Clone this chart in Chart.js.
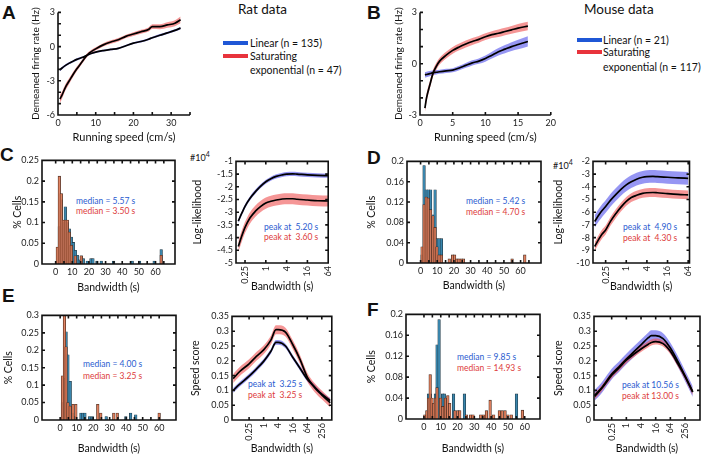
<!DOCTYPE html>
<html>
<head>
<meta charset="utf-8">
<title>Speed tuning – rat and mouse</title>
<script src="https://cdn.jsdelivr.net/npm/chart.js@4.4.1/dist/chart.umd.min.js"></script>
<style>
  html, body { margin: 0; padding: 0; background: #fff; }
  body { position: relative; width: 702px; height: 455px; overflow: hidden; font-family: Lato, "Open Sans", sans-serif; color: #111; }
  canvas { position: absolute; }
  .txt { position: absolute; white-space: pre; line-height: 1; transform: translateY(-50%); }
  .panel { position: absolute; font: bold 19px "Liberation Sans", Arial, sans-serif; line-height: 1; }
  .key { position: absolute; height: 4px; width: 25px; }
  .note { font-size: 8.5px; }
  .blue { color: #2a5bd0; }
  .red { color: #dd3b3b; }
</style>
</head>
<body>
<!-- panel letters -->
<div class="panel" style="left:2px;top:3px">A</div>
<div class="panel" style="left:367px;top:3px">B</div>
<div class="panel" style="left:0px;top:145px">C</div>
<div class="panel" style="left:367px;top:148px">D</div>
<div class="panel" style="left:2px;top:286px">E</div>
<div class="panel" style="left:367px;top:300px">F</div>

<!-- legends A / B -->
<div class="txt" style="left:238px;top:10px;font-size:13.5px">Rat data</div>
<div class="key" style="left:223px;top:41px;background:#1f57d6"></div>
<div class="key" style="left:223px;top:54px;background:#e8333c"></div>
<div class="txt" style="left:250px;top:43px;font-size:10.5px">Linear (n = 135)</div>
<div class="txt" style="left:250px;top:56px;font-size:10.5px">Saturating</div>
<div class="txt" style="left:250px;top:70px;font-size:10.5px">exponential (n = 47)</div>

<div class="txt" style="left:584px;top:10px;font-size:13.5px">Mouse data</div>
<div class="key" style="left:577px;top:38px;background:#1f57d6"></div>
<div class="key" style="left:577px;top:50px;background:#e8333c"></div>
<div class="txt" style="left:603px;top:40px;font-size:10.5px">Linear (n = 21)</div>
<div class="txt" style="left:603px;top:52px;font-size:10.5px">Saturating</div>
<div class="txt" style="left:603px;top:67px;font-size:10.5px">exponential (n = 117)</div>

<!-- annotations -->
<div class="txt note blue" style="left:76px;top:201px">median = 5.57 s</div>
<div class="txt note red" style="left:76px;top:211px">median = 3.50 s</div>
<div class="txt note blue" style="left:264px;top:227px">peak at  5.20 s</div>
<div class="txt note red" style="left:264px;top:237px">peak at  3.60 s</div>
<div class="txt" style="left:190px;top:156px;font-size:9px">#10<sup style="font-size:7px">4</sup></div>

<div class="txt note blue" style="left:466px;top:201px">median = 5.42 s</div>
<div class="txt note red" style="left:466px;top:212px">median = 4.70 s</div>
<div class="txt note blue" style="left:623px;top:227px">peak at  4.90 s</div>
<div class="txt note red" style="left:623px;top:238px">peak at  4.30 s</div>
<div class="txt" style="left:553px;top:164px;font-size:9px">#10<sup style="font-size:7px">4</sup></div>

<div class="txt note blue" style="left:83px;top:364px">median = 4.00 s</div>
<div class="txt note red" style="left:83px;top:376px">median = 3.25 s</div>
<div class="txt note blue" style="left:248px;top:384px">peak at  3.25 s</div>
<div class="txt note red" style="left:248px;top:395px">peak at  3.25 s</div>

<div class="txt note blue" style="left:457px;top:357px">median = 9.85 s</div>
<div class="txt note red" style="left:457px;top:368px">median = 14.93 s</div>
<div class="txt note blue" style="left:622px;top:385px">peak at 10.56 s</div>
<div class="txt note red" style="left:622px;top:396px">peak at 13.00 s</div>

<script>
// ---------- data ----------
// A: rat, demeaned firing rate (Hz) vs running speed (cm/s)
const ratSpeed       = [0.5, 1, 2, 3, 4, 5, 6, 7, 8, 9, 10, 12, 14, 16, 18, 20, 22, 24, 25, 27, 29, 31, 32.5];
const ratLinear      = [-2.05, -1.9, -1.65, -1.45, -1.28, -1.12, -1.0, -0.88, -0.72, -0.58, -0.48, -0.35, -0.25, -0.15, 0.08, 0.3, 0.45, 0.65, 0.78, 1.0, 1.2, 1.42, 1.62];
const ratLinearSem   = [0.12, 0.11, 0.1, 0.1, 0.09, 0.09, 0.08, 0.08, 0.08, 0.08, 0.08, 0.08, 0.08, 0.08, 0.08, 0.08, 0.08, 0.09, 0.09, 0.1, 0.1, 0.1, 0.11];
const ratSat         = [-4.6, -4.3, -3.55, -3.0, -2.45, -1.95, -1.5, -1.05, -0.65, -0.4, -0.2, 0.15, 0.4, 0.6, 0.9, 1.1, 1.3, 1.5, 1.75, 1.75, 1.9, 2.05, 2.35];
const ratSatSem      = [0.35, 0.32, 0.28, 0.25, 0.22, 0.2, 0.18, 0.16, 0.15, 0.15, 0.15, 0.15, 0.15, 0.15, 0.15, 0.16, 0.17, 0.18, 0.2, 0.22, 0.24, 0.26, 0.3];

// B: mouse
const mouseSpeed     = [0.75, 1, 1.5, 2, 2.5, 3, 4, 5, 6, 7, 8, 9, 10, 11, 12, 13, 14, 15, 16.5];
const mouseLinear    = [-0.65, -0.63, -0.58, -0.52, -0.5, -0.47, -0.42, -0.38, -0.25, -0.1, 0.05, 0.15, 0.3, 0.5, 0.7, 0.85, 1.0, 1.12, 1.3];
const mouseLinearSem = [0.16, 0.16, 0.15, 0.14, 0.13, 0.12, 0.12, 0.12, 0.13, 0.14, 0.15, 0.16, 0.18, 0.2, 0.22, 0.24, 0.26, 0.28, 0.3];
const mouseSat       = [-2.6, -2.0, -1.25, -0.55, -0.15, 0.15, 0.5, 0.78, 0.98, 1.15, 1.3, 1.42, 1.58, 1.7, 1.78, 1.88, 1.98, 2.08, 2.2];
const mouseSatSem    = [0.25, 0.25, 0.22, 0.2, 0.2, 0.2, 0.2, 0.2, 0.2, 0.2, 0.2, 0.2, 0.2, 0.2, 0.22, 0.22, 0.23, 0.24, 0.25];

// C / D / E / F histograms: bandwidth bin (s) and fraction of cells
const cLinX = [2.2, 3.4, 4.6, 5.8, 7.0, 8.2, 9.4, 10.6, 11.8, 13.0, 14.2, 15.4, 16.6, 19.0, 21.2, 22.4, 24.8, 27.4, 34.8, 46.0, 50.4, 59.2, 63.4];
const cLinY = [0.09, 0.155, 0.1, 0.138, 0.1, 0.085, 0.065, 0.052, 0.033, 0.021, 0.01, 0.02, 0.013, 0.007, 0.013, 0.013, 0.007, 0.007, 0.007, 0.007, 0.007, 0.007, 0.035];
const cSatX = [1.0, 2.2, 3.4, 4.6, 5.8, 7.0, 8.2, 9.4, 11.8, 15.4, 63.4];
const cSatY = [0.041, 0.212, 0.17, 0.106, 0.106, 0.106, 0.077, 0.045, 0.02, 0.02, 0.021];

const dLinX = [0.9, 2.1, 3.4, 4.6, 6.0, 7.4, 8.7, 9.8, 11.1, 12.5];
const dLinY = [0.016, 0.192, 0.144, 0.144, 0.144, 0.095, 0.144, 0.048, 0.048, 0.048];
const dSatX = [0.9, 2.1, 3.4, 4.6, 6.0, 7.4, 8.7, 9.8, 11.1, 12.5, 17.2, 19.2, 20.4, 21.8, 23.0, 24.4, 25.7, 54.9, 62.5];
const dSatY = [0.032, 0.115, 0.13, 0.128, 0.105, 0.093, 0.07, 0.032, 0.016, 0.016, 0.008, 0.016, 0.016, 0.008, 0.008, 0.008, 0.008, 0.008, 0.016];

const eLinX = [1.4, 2.6, 3.6, 4.7, 6.1, 7.4, 8.6, 12.6, 13.8, 15.0, 17.8, 19.5, 27.9, 39.8, 42.7, 45.8];
const eLinY = [0.05, 0.12, 0.253, 0.187, 0.111, 0.02, 0.01, 0.02, 0.02, 0.02, 0.01, 0.01, 0.01, 0.01, 0.02, 0.015];
const eSatX = [1.4, 2.6, 3.6, 4.7, 6.1, 7.8, 9.5, 22.8, 24.6, 32.5, 34.6, 60.0];
const eSatY = [0.127, 0.3, 0.21, 0.05, 0.04, 0.045, 0.045, 0.045, 0.02, 0.02, 0.02, 0.02];

const fLinX = [2.7, 3.8, 6.8, 7.8, 9.0, 11.1, 12.1, 17.6, 24.1, 55.1];
const fLinY = [0.048, 0.048, 0.048, 0.142, 0.19, 0.048, 0.048, 0.048, 0.048, 0.048];
const fSatX = [0.5, 1.7, 2.7, 3.7, 4.8, 5.8, 6.8, 7.8, 9.9, 11.1, 12.8, 14.2, 15.3, 18.4, 20.1, 21.3, 25.3, 27.8, 29.2, 33.8, 35.5, 37.2, 39.4, 41.5, 44.9, 46.6, 48.3, 50.0, 52.0, 58.6];
const fSatY = [0.008, 0.016, 0.04, 0.085, 0.04, 0.03, 0.04, 0.06, 0.04, 0.024, 0.04, 0.045, 0.03, 0.016, 0.016, 0.016, 0.008, 0.008, 0.008, 0.008, 0.008, 0.016, 0.036, 0.008, 0.016, 0.016, 0.016, 0.008, 0.008, 0.017];

// C / D right: log-likelihood (x10^4) vs bandwidth (s)
const llBwC     = [0.16, 0.2, 0.25, 0.35, 0.5, 0.7, 1, 1.4, 2, 3, 4, 6, 8, 16, 32, 64];
const llLinC    = [-3.35, -3.05, -2.77, -2.45, -2.19, -1.98, -1.8, -1.68, -1.59, -1.53, -1.5, -1.49, -1.5, -1.53, -1.55, -1.56];
const llSatC    = [-4.35, -3.95, -3.6, -3.22, -2.96, -2.78, -2.64, -2.57, -2.52, -2.48, -2.47, -2.47, -2.49, -2.52, -2.55, -2.56];
const llBwD     = [0.12, 0.16, 0.2, 0.25, 0.35, 0.5, 0.7, 1, 1.4, 2, 3, 4, 6, 8, 16, 32, 64];
const llLinD    = [-6.73, -6.2, -5.85, -5.55, -5.05, -4.6, -4.2, -3.85, -3.6, -3.4, -3.25, -3.2, -3.18, -3.2, -3.25, -3.3, -3.33];
const llSatD    = [-8.7, -8.1, -7.7, -7.4, -6.7, -6.1, -5.6, -5.15, -4.85, -4.67, -4.52, -4.47, -4.45, -4.47, -4.54, -4.6, -4.64];

// E / F right: speed score vs bandwidth (s)
const ssBwE     = [0.055, 0.1, 0.25, 0.5, 1, 2, 3.25, 4, 8, 16, 32, 64, 128, 256, 570];
const ssLinE    = [0.1, 0.12, 0.148, 0.172, 0.198, 0.232, 0.262, 0.262, 0.25, 0.212, 0.175, 0.138, 0.112, 0.087, 0.066];
const ssSatE    = [0.14, 0.163, 0.19, 0.215, 0.237, 0.27, 0.305, 0.305, 0.297, 0.255, 0.205, 0.145, 0.11, 0.085, 0.058];
const ssBwF     = [0.05, 0.1, 0.25, 0.5, 1, 2, 4, 8, 10.56, 16, 32, 64, 128, 256, 530];
const ssLinF    = [0.083, 0.11, 0.155, 0.18, 0.206, 0.23, 0.254, 0.278, 0.285, 0.285, 0.275, 0.243, 0.199, 0.149, 0.096];
const ssSatF    = [0.08, 0.108, 0.151, 0.176, 0.202, 0.222, 0.24, 0.256, 0.262, 0.265, 0.258, 0.232, 0.191, 0.147, 0.094];

// tick labels
const bwHistTicks = [0, 10, 20, 30, 40, 50, 60];
const bwLogTicks4 = [0.25, 1, 4, 16, 64];
const bwLogTicks5 = [0.25, 1, 4, 16, 64, 256];

// ---------- styling ----------
const BAND_BLUE = 'rgba(80, 80, 235, 0.6)';
const BAND_RED  = 'rgba(238, 80, 80, 0.6)';
const BAR_BLUE  = '#3a86ad';
const BAR_ORANGE = 'rgba(230, 120, 80, 0.82)';

Chart.defaults.font.family = 'Lato, "Open Sans", sans-serif';
Chart.defaults.color = '#222';
Chart.defaults.animation = false;
Chart.defaults.responsive = false;
Chart.defaults.devicePixelRatio = 1;
Chart.defaults.plugins.legend.display = false;
Chart.defaults.plugins.tooltip.enabled = false;
Chart.defaults.elements.point.radius = 0;

// axis frame with inward ticks (drawn ourselves so all four sides match)
const framePlugin = {
    id: 'frame',
    afterDatasetsDraw(chart, args, o) {
        const { ctx, chartArea: a, scales: { x, y } } = chart;
        const L = 3;
        ctx.save();
        ctx.strokeStyle = '#111';
        ctx.lineWidth = 1.6;
        ctx.beginPath();
        if (o.box) {
            ctx.rect(a.left, a.top, a.width, a.height);
        } else {
            ctx.moveTo(a.left, a.top);
            ctx.lineTo(a.left, a.bottom);
            ctx.lineTo(a.right, a.bottom);
        }
        (o.xt || []).forEach(v => {
            const p = x.getPixelForValue(v);
            ctx.moveTo(p, a.bottom); ctx.lineTo(p, a.bottom - L);
            if (o.box) { ctx.moveTo(p, a.top); ctx.lineTo(p, a.top + L); }
        });
        (o.yt || []).forEach(v => {
            const p = y.getPixelForValue(v);
            ctx.moveTo(a.left, p); ctx.lineTo(a.left + L, p);
            if (o.box) { ctx.moveTo(a.right, p); ctx.lineTo(a.right - L, p); }
        });
        ctx.stroke();
        ctx.restore();
    }
};
Chart.register(framePlugin);

// canvas placed so that the plot area lands on box = [left, top, right, bottom]
function mount(box, m) {
    const cv = document.createElement('canvas');
    const w = box[2] - box[0] + m[0] + m[2];
    const h = box[3] - box[1] + m[1] + m[3];
    cv.width = w; cv.height = h;
    cv.style.left = (box[0] - m[0]) + 'px';
    cv.style.top = (box[1] - m[1]) + 'px';
    cv.style.width = w + 'px';
    cv.style.height = h + 'px';
    document.body.appendChild(cv);
    return cv;
}

function axis(o) {
    return {
        type: o.type || 'linear',
        min: o.min, max: o.max,
        grid: { display: false, drawTicks: false },
        border: { display: false },
        ticks: {
            font: { size: 9 }, color: '#222', padding: o.pad ?? 3, autoSkip: false,
            minRotation: o.rot || 0, maxRotation: o.rot || 0,
            callback: v => String(v)
        },
        afterBuildTicks: s => { s.ticks = o.ticks.map(v => ({ value: v })); },
        afterFit: s => { if (s.isHorizontal()) s.height = o.size; else s.width = o.size; },
        title: {
            display: !!o.title, text: o.title, color: '#111',
            font: { size: o.titleSize || 10.5 },
            padding: o.titlePad || { top: 0, bottom: 0 }
        }
    };
}

function pts(xs, ys) { return xs.map((x, i) => ({ x, y: ys[i] })); }

function band(xs, mean, sem, color, order) {
    return [
        { data: xs.map((x, i) => ({ x, y: mean[i] - sem[i] })), borderWidth: 0, fill: false, order, cubicInterpolationMode: 'monotone' },
        { data: xs.map((x, i) => ({ x, y: mean[i] + sem[i] })), borderWidth: 0, fill: '-1', backgroundColor: color, order, cubicInterpolationMode: 'monotone' }
    ];
}
function meanLine(xs, mean) {
    return { data: pts(xs, mean), borderColor: '#000', borderWidth: 1.7, fill: false, order: 0, cubicInterpolationMode: 'monotone' };
}
function constSem(xs, v) { return xs.map(() => v); }

function lineChart(box, m, datasets, xAx, yAx, frame) {
    return new Chart(mount(box, m), {
        type: 'line',
        data: { datasets },
        options: {
            layout: { padding: { left: 0, top: m[1], right: m[2], bottom: 0 } },
            scales: { x: axis(xAx), y: axis(yAx) },
            plugins: { frame }
        }
    });
}

function histChart(box, m, linX, linY, satX, satY, xAx, yAx) {
    return new Chart(mount(box, m), {
        type: 'bar',
        data: {
            datasets: [
                { data: pts(satX, satY), backgroundColor: BAR_ORANGE, borderColor: '#3a2a22', borderWidth: 0.6, order: 0 },
                { data: pts(linX, linY), backgroundColor: BAR_BLUE, borderColor: '#1c2e38', borderWidth: 0.6, order: 1 }
            ]
        },
        options: {
            layout: { padding: { left: 0, top: m[1], right: m[2], bottom: 0 } },
            datasets: { bar: { grouped: false, barThickness: 2.6 } },
            scales: { x: axis(xAx), y: axis(yAx) },
            plugins: { frame: { box: true, xt: [0, 5, 10, 15, 20, 25, 30, 35, 40, 45, 50, 55, 60, 65].filter(v => v <= xAx.max), yt: yAx.ticks } }
        }
    });
}

// ---------- A ----------
lineChart([58, 10, 190, 115], [30, 6, 6, 30], [
    ...band(ratSpeed, ratLinear, ratLinearSem, BAND_BLUE, 2),
    ...band(ratSpeed, ratSat, ratSatSem, BAND_RED, 1),
    meanLine(ratSpeed, ratLinear),
    meanLine(ratSpeed, ratSat)
], { min: 0, max: 35, ticks: [0, 10, 20, 30], size: 30, title: 'Running speed (cm/s)', titleSize: 11, titlePad: { top: 0, bottom: 1 } },
   { min: -6, max: 3, ticks: [-6, -3, 0, 3], size: 30, title: 'Demeaned firing rate (Hz)', titleSize: 10, titlePad: { top: 2, bottom: 0 } },
   { box: false, xt: [0, 5, 10, 15, 20, 25, 30, 35], yt: [-6, -5, -4, -3, -2, -1, 0, 1, 2, 3] });

// ---------- B ----------
lineChart([420, 10, 553, 115], [29, 6, 6, 30], [
    ...band(mouseSpeed, mouseLinear, mouseLinearSem, BAND_BLUE, 2),
    ...band(mouseSpeed, mouseSat, mouseSatSem, BAND_RED, 1),
    meanLine(mouseSpeed, mouseLinear),
    meanLine(mouseSpeed, mouseSat)
], { min: 0, max: 20, ticks: [0, 5, 10, 15, 20], size: 30, title: 'Running speed (cm/s)', titleSize: 11, titlePad: { top: 0, bottom: 1 } },
   { min: -3, max: 3, ticks: [-3, 0, 3], size: 29, title: 'Demeaned firing rate (Hz)', titleSize: 10, titlePad: { top: 2, bottom: 0 } },
   { box: false, xt: [0, 5, 10, 15, 20], yt: [-3, -2, -1, 0, 1, 2, 3] });

// ---------- C ----------
histChart([42, 158, 175, 264], [33, 6, 4, 31], cLinX, cLinY, cSatX, cSatY,
    { min: -2.5, max: 66, ticks: bwHistTicks, size: 31, title: 'Bandwidth (s)', titlePad: { top: 0, bottom: 1 } },
    { min: 0, max: 0.25, ticks: [0, 0.05, 0.1, 0.15, 0.2, 0.25], size: 33, title: '% Cells', titlePad: { top: 2, bottom: 0 } });

lineChart([236, 159, 338, 263], [47, 6, 4, 30], [
    ...band(llBwC, llLinC, constSem(llBwC, 0.08), BAND_BLUE, 2),
    ...band(llBwC, llSatC, constSem(llBwC, 0.22), BAND_RED, 1),
    meanLine(llBwC, llLinC),
    meanLine(llBwC, llSatC)
], { type: 'logarithmic', min: 0.137, max: 64, ticks: bwLogTicks4, rot: 90, size: 30, title: 'Bandwidth (s)', titlePad: { top: 0, bottom: 0 } },
   { min: -5, max: -1, ticks: [-5, -4.5, -4, -3.5, -3, -2.5, -2, -1.5, -1], size: 47, title: 'Log-likelihood', titlePad: { top: 2, bottom: 0 } },
   { box: true, xt: bwLogTicks4, yt: [-5, -4.5, -4, -3.5, -3, -2.5, -2, -1.5, -1] });

// ---------- D ----------
histChart([407, 159, 541, 263], [44, 6, 4, 30], dLinX, dLinY, dSatX, dSatY,
    { min: -2.4, max: 66.5, ticks: bwHistTicks, size: 30, title: 'Bandwidth (s)', titlePad: { top: 0, bottom: 1 } },
    { min: 0, max: 0.2, ticks: [0, 0.04, 0.08, 0.12, 0.16, 0.2], size: 44, title: '% Cells', titlePad: { top: 2, bottom: 0 } });

lineChart([593, 159, 700, 263], [43, 6, 2, 30], [
    ...band(llBwD, llLinD, constSem(llBwD, 0.5), BAND_BLUE, 2),
    ...band(llBwD, llSatD, constSem(llBwD, 0.35), BAND_RED, 1),
    meanLine(llBwD, llLinD),
    meanLine(llBwD, llSatD)
], { type: 'logarithmic', min: 0.107, max: 70, ticks: bwLogTicks4, rot: 90, size: 30, title: 'Bandwidth (s)', titlePad: { top: 0, bottom: 0 } },
   { min: -10, max: -2, ticks: [-10, -9, -8, -7, -6, -5, -4, -3, -2], size: 43, title: 'Log-likelihood', titlePad: { top: 2, bottom: 0 } },
   { box: true, xt: bwLogTicks4, yt: [-10, -9, -8, -7, -6, -5, -4, -3, -2] });

// ---------- E ----------
histChart([42, 313, 176, 420], [42, 6, 4, 36], eLinX, eLinY, eSatX, eSatY,
    { min: -5.2, max: 64.4, ticks: bwHistTicks, size: 36, title: 'Bandwidth (s)', titlePad: { top: 0, bottom: 1 } },
    { min: 0, max: 0.3, ticks: [0, 0.05, 0.1, 0.15, 0.2, 0.25, 0.3], size: 42, title: '% Cells', titlePad: { top: 2, bottom: 0 } });

lineChart([232, 314, 332, 420], [45, 6, 4, 36], [
    ...band(ssBwE, ssLinE, constSem(ssBwE, 0.008), BAND_BLUE, 2),
    ...band(ssBwE, ssSatE, constSem(ssBwE, 0.015), BAND_RED, 1),
    meanLine(ssBwE, ssLinE),
    meanLine(ssBwE, ssSatE)
], { type: 'logarithmic', min: 0.049, max: 664, ticks: bwLogTicks5, rot: 90, size: 36, title: 'Bandwidth (s)', titlePad: { top: 0, bottom: 1 } },
   { min: 0, max: 0.35, ticks: [0, 0.05, 0.1, 0.15, 0.2, 0.25, 0.3, 0.35], size: 45, title: 'Speed score', titlePad: { top: 2, bottom: 0 } },
   { box: true, xt: bwLogTicks5, yt: [0, 0.05, 0.1, 0.15, 0.2, 0.25, 0.3, 0.35] });

// ---------- F ----------
histChart([406, 312, 540, 419], [43, 6, 4, 37], fLinX, fLinY, fSatX, fSatY,
    { min: -5, max: 63.4, ticks: bwHistTicks, size: 37, title: 'Bandwidth (s)', titlePad: { top: 0, bottom: 1 } },
    { min: 0, max: 0.2, ticks: [0, 0.04, 0.08, 0.12, 0.16, 0.2], size: 43, title: '% Cells', titlePad: { top: 2, bottom: 0 } });

lineChart([594, 314, 700, 420], [44, 6, 2, 36], [
    ...band(ssBwF, ssLinF, constSem(ssBwF, 0.018), BAND_BLUE, 2),
    ...band(ssBwF, ssSatF, constSem(ssBwF, 0.01), BAND_RED, 1),
    meanLine(ssBwF, ssLinF),
    meanLine(ssBwF, ssSatF)
], { type: 'logarithmic', min: 0.047, max: 1054, ticks: bwLogTicks5, rot: 90, size: 36, title: 'Bandwidth (s)', titlePad: { top: 0, bottom: 1 } },
   { min: 0, max: 0.35, ticks: [0, 0.05, 0.1, 0.15, 0.2, 0.25, 0.3, 0.35], size: 44, title: 'Speed score', titlePad: { top: 2, bottom: 0 } },
   { box: true, xt: bwLogTicks5, yt: [0, 0.05, 0.1, 0.15, 0.2, 0.25, 0.3, 0.35] });
</script>
</body>
</html>
